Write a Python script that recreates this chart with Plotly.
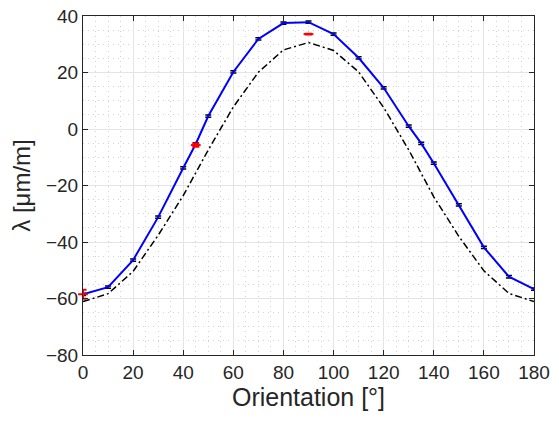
import plotly.graph_objects as go

# Measured (blue line with black error bars)
meas_x = [0, 10, 20, 30, 40, 45, 50, 60, 70, 80, 90, 100, 110, 120, 130, 135, 140, 150, 160, 170, 180]
meas_y = [-58.5, -56.0, -46.4, -31.2, -13.8, -5.3, 4.6, 20.2, 31.9, 37.5, 37.8, 33.6, 25.2, 14.6, 1.0, -5.1, -12.1, -26.9, -41.9, -52.3, -56.7]
meas_err = [0.4] * len(meas_x)

# Model (black dash-dot)
model_x = [0, 10, 20, 30, 40, 50, 60, 70, 80, 90, 100, 110, 120, 130, 140, 150, 160, 170, 180]
model_y = [-61.1, -58.3, -50.4, -37.6, -23.6, -7.4, 7.8, 20.1, 28.0, 30.6, 27.8, 20.2, 7.6, -7.4, -24.0, -38.0, -50.2, -58.2, -61.1]

# Reference (red)
ref_x = [0, 45, 90]
ref_y = [-58.5, -5.7, 33.6]
ref_err = [1.6, 0.6, 0.15]

FONT = "Liberation Sans, Arial, sans-serif"
INK = "#262626"

fig = go.Figure()
fig.add_trace(go.Scatter(x=model_x, y=model_y, mode="lines",
                         line=dict(color="black", width=1.5, dash="7px,3px,2px,3px"),
                         showlegend=False, cliponaxis=False))
fig.add_trace(go.Scatter(x=meas_x, y=meas_y, mode="lines",
                         line=dict(color="#0000ff", width=2),
                         error_y=dict(type="data", array=meas_err, color="black",
                                      thickness=1.5, width=3),
                         showlegend=False, cliponaxis=False))
fig.add_trace(go.Scatter(x=ref_x, y=ref_y, mode="markers",
                         marker=dict(color="red", symbol="line-ew", size=7,
                                     line=dict(color="red", width=2)),
                         error_y=dict(type="data", array=ref_err, color="red",
                                      thickness=2, width=3.5),
                         showlegend=False, cliponaxis=False))

axis_common = dict(
    showline=True, linecolor=INK, linewidth=1, mirror="ticks",
    ticks="inside", ticklen=5, tickcolor=INK,
    showgrid=True, gridcolor="#e4e4e4", gridwidth=1,
    zeroline=False, automargin=False,
    tickfont=dict(family=FONT, size=19, color=INK),
)
minor = dict(dtick=5, showgrid=True, gridcolor="#d2d2d2", griddash="1px,4px", gridwidth=1, ticks="")

fig.update_xaxes(range=[0, 180], dtick=20, tick0=0,
                 title=dict(text="Orientation [°]", font=dict(family=FONT, size=25, color=INK), standoff=4),
                 minor=minor, **axis_common)
fig.update_yaxes(range=[-80, 40], dtick=20, tick0=0,
                 title=dict(text="λ [μm/m]", font=dict(family=FONT, size=24, color=INK), standoff=8),
                 minor=minor, **axis_common)

fig.update_layout(width=559, height=421,
                  margin=dict(l=83, r=25, t=16, b=66, autoexpand=False),
                  plot_bgcolor="white", paper_bgcolor="white")

fig.write_html("out.html")
